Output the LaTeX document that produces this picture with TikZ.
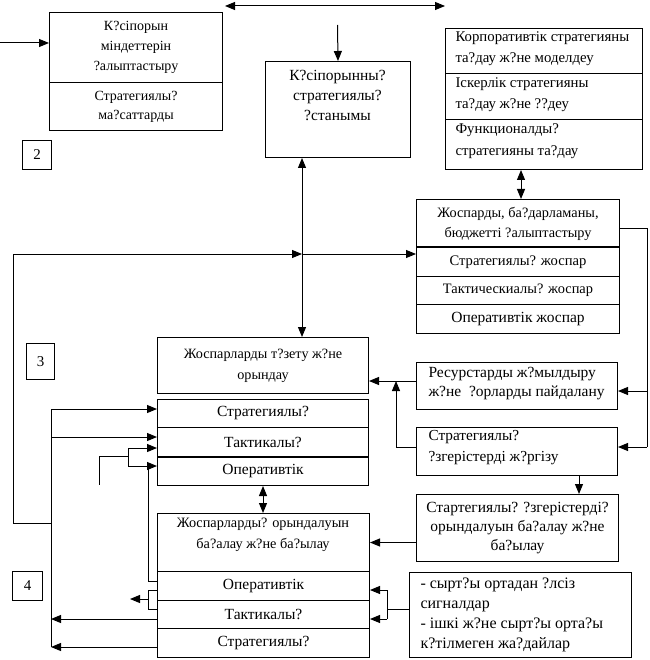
\documentclass[tikz,border=0pt]{standalone}
\usepackage{fontspec}
\setmainfont{Liberation Serif}
\usetikzlibrary{arrows.meta}
\newcommand{\fs}[2]{\fontsize{#1}{#2}\selectfont}
\begin{document}
\begin{tikzpicture}[x=1pt,y=-1pt,line width=1pt,
  every node/.style={font=\fs{14}{20}},
  bx/.style={draw,line width=1pt,inner sep=0pt,anchor=north west},
  lt/.style={anchor=west,align=left,inner sep=0pt},
  arr/.style={-{Triangle[length=10pt,width=8pt]}},
  darr/.style={{Triangle[length=10pt,width=8pt]}-{Triangle[length=10pt,width=8pt]}}]
\fill[white] (0,0) rectangle (649,660);
\useasboundingbox (0,0) rectangle (649,660);
% boxes
\node[bx,minimum width=173pt,minimum height=70pt,align=center] (A1) at (49,12) {К?сіпорын\\міндеттерін\\?алыптастыру};
\node[bx,minimum width=173pt,minimum height=48pt,align=center,font=\fs{14}{19}] (A2) at (49,82) {Стратегиялы?\\ма?саттарды};
\node[bx,minimum width=29pt,minimum height=29pt,font=\fs{15}{18}] (n2) at (22,140) {2};
\node[bx,minimum width=145pt,minimum height=96pt] (B) at (265,61) {};
\node[align=center,font=\fs{15.5}{20}] (Bt) at (337.5,95) {К?сіпорынны?\\стратегиялы?\\?станымы};
\node[bx,minimum width=197pt,minimum height=45pt] (K1) at (445,28) {};
\node[bx,minimum width=197pt,minimum height=46pt] (K2) at (445,73) {};
\node[bx,minimum width=197pt,minimum height=50pt] (K3) at (445,119) {};
\node[lt,font=\fs{14.8}{21}] (K1t) at (455,48.5) {Корпоративтік стратегияны\\та?дау ж?не моделдеу};
\node[lt,font=\fs{14.8}{21}] (K2t) at (455,94.5) {Іскерлік стратегияны\\та?дау ж?не ??деу};
\node[lt,font=\fs{14.8}{22}] (K3t) at (455,141) {Функционалды?\\стратегияны та?дау};
\node[bx,minimum width=203pt,minimum height=48pt,align=center,font=\fs{14.3}{20}] (D0) at (416,199) {Жоспарды, ба?дарламаны,\\бюджетті ?алыптастыру};
\node[bx,minimum width=203pt,minimum height=29pt,font=\fs{14.6}{18}] (D1) at (416,247) {Стратегиялы? жоспар};
\node[bx,minimum width=203pt,minimum height=28pt,font=\fs{14.4}{18}] (D2) at (416,276) {Тактическиалы? жоспар};
\node[bx,minimum width=203pt,minimum height=29pt,font=\fs{15.5}{18}] (D3) at (416,304) {Оперативтік жоспар};
\node[bx,minimum width=211pt,minimum height=56pt,align=center,font=\fs{14.2}{21}] (C) at (157,337) {Жоспарларды т?зету ж?не\\орындау};
\node[bx,minimum width=28pt,minimum height=36pt,font=\fs{15}{18}] (n3) at (26,343) {3};
\node[bx,minimum width=211pt,minimum height=28pt,font=\fs{15.5}{18}] (U1) at (157,399) {Стратегиялы?};
\node[bx,minimum width=211pt,minimum height=30pt,font=\fs{15.5}{18}] (U2) at (157,427) {Тактикалы?};
\node[bx,minimum width=211pt,minimum height=28pt,font=\fs{15.5}{18}] (U3) at (157,457) {Оперативтік};
\node[bx,minimum width=201pt,minimum height=47pt] (E) at (416,362) {};
\node[lt,font=\fs{15.5}{19}] (Et) at (428,383.5) {Ресурстарды ж?мылдыру\\ж?не~ ?орларды пайдалану};
\node[bx,minimum width=201pt,minimum height=48pt] (F) at (416,427) {};
\node[lt,font=\fs{15.3}{21}] (Ft) at (428,447.5) {Стратегиялы?\\?згерістерді ж?ргізу};
\node[bx,minimum width=202pt,minimum height=67pt,align=center,font=\fs{15.5}{19}] (G) at (416,494) {Стартегиялы? ?згерістерді?\\орындалуын ба?алау ж?не\\ба?ылау};
\node[bx,minimum width=212pt,minimum height=58pt] (H0) at (157,513) {};
\node[align=center,font=\fs{14.3}{21}] (H0t) at (263,535) {Жоспарларды? орындалуын\\ба?алау ж?не ба?ылау};
\node[bx,minimum width=212pt,minimum height=29pt,font=\fs{15.5}{18}] (H1) at (157,571) {Оперативтік};
\node[bx,minimum width=212pt,minimum height=28pt,font=\fs{15.5}{18}] (H2) at (157,600) {Тактикалы?};
\node[bx,minimum width=212pt,minimum height=29pt,font=\fs{15.5}{18}] (H3) at (157,628) {Стратегиялы?};
\node[bx,minimum width=30pt,minimum height=29pt,font=\fs{15}{18}] (n4) at (12,571) {4};
\node[bx,minimum width=222pt,minimum height=85pt] (I) at (409,572) {};
\node[lt,font=\fs{16}{20}] (It) at (420,615) {- сырт?ы ортадан ?лсіз\\сигналдар\\- ішкі ж?не сырт?ы орта?ы\\к?тілмеген жа?дайлар};
% thick dividers
\draw[line width=2.5pt] (D1.north west) -- (D1.north east);
\draw[line width=2pt] (U3.north west) -- (U3.north east);
% connectors
\coordinate (inA) at (0,43);
\draw[arr] (inA) -- (inA -| A1.west);
\coordinate (t1) at (225,6); \coordinate (t2) at (445,6);
\draw[darr] (t1) -- (t2);
\coordinate (tB) at (337.5,25);
\draw[arr] (tB) -- (B.north);
\coordinate (J) at (302,254);
\draw[arr] (J) -- (J |- B.south);
\draw[arr] (J) -- (J |- C.north);
\draw[arr] (J) -- (J -| D1.west);
\coordinate (L1) at (13,254); \coordinate (L2) at (51,523);
\draw[arr] (L2) -| (L1) -- (J);
\coordinate (V1) at (51,409); \coordinate (V2) at (51,437);
\coordinate (V3) at (51,619); \coordinate (V4) at (51,647);
\draw (V1) -- (V4);
\draw[arr] (V1) -- (V1 -| U1.west);
\draw[arr] (V2) -- (V2 -| U2.west);
\draw[arr] (V3 -| H2.west) -- (V3);
\draw[arr] (V4 -| H3.west) -- (V4);
\coordinate (bx1) at (128,448); \coordinate (bx2) at (128,466);
\coordinate (bxm) at (128,456); \coordinate (bxe) at (99,485);
\draw (bx1) -- (bx2);
\draw[arr] (bx1) -- (bx1 -| U2.west);
\draw[arr] (bx2) -- (bx2 -| U3.west);
\draw (bxm) -| (bxe);
\coordinate (op1) at (148,466); \coordinate (op2) at (148,581);
\draw (op1) -- (op2) -- (op2 -| H1.west);
\coordinate (hb1) at (148,590); \coordinate (hb2) at (148,609);
\coordinate (hbm) at (148,599); \coordinate (hbe) at (130,599);
\draw (hb1 -| H1.west) -- (hb1) -- (hb2) -- (hb2 -| H2.west);
\draw[arr] (hbm) -- (hbe);
\coordinate (m) at (263,0);
\draw[darr] (U3.south -| m) -- (H0.north -| m);
\coordinate (r1) at (396,381); \coordinate (r2) at (396,447);
\draw[arr] (r1 -| E.west) -- (r1 -| C.east);
\draw[arr] (r2 -| F.west) -- (r2) -- (r1);
\coordinate (rr1) at (647,228); \coordinate (rr2) at (647,391); \coordinate (rr3) at (647,447);
\draw (rr1 -| D0.east) -- (rr1) -- (rr3);
\draw[arr] (rr2) -- (rr2 -| E.east);
\draw[arr] (rr3) -- (rr3 -| F.east);
\coordinate (g) at (579,0);
\draw[arr] (F.south -| g) -- (G.north -| g);
\draw[arr] (G.west |- H0.east) -- (H0.east);
\coordinate (k) at (521,0);
\draw[darr] (K3.south -| k) -- (D0.north -| k);
\coordinate (ib1) at (387,590); \coordinate (ib2) at (387,619); \coordinate (ibm) at (387,609);
\draw (ib1) -- (ib2);
\draw[arr] (ib1) -- (ib1 -| H1.east);
\draw[arr] (ib2) -- (ib2 -| H2.east);
\draw (ibm -| I.west) -- (ibm);
\end{tikzpicture}
\end{document}
